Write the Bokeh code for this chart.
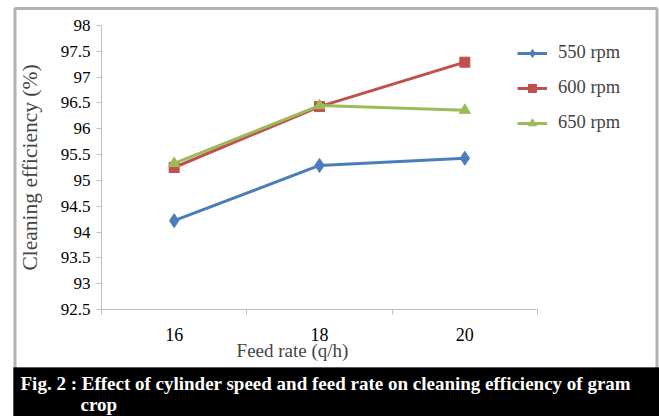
from bokeh.plotting import figure
from bokeh.models import (FixedTicker, Legend, LegendItem, BoxAnnotation, Label, Range1d, LinearAxis)
from bokeh.embed import file_html
from bokeh.resources import INLINE

feed_rates = [16, 18, 20]
tick_labels = ["16", "18", "20"]
rpm_550 = [94.22, 95.29, 95.43]
rpm_600 = [95.25, 96.43, 97.29]
rpm_650 = [95.33, 96.45, 96.36]
series_names = ["550 rpm", "600 rpm", "650 rpm"]
colors = ["#4A7EBB", "#C0504D", "#9BBB59"]
y_ticks = [92.5, 93, 93.5, 94, 94.5, 95, 95.5, 96, 96.5, 97, 97.5, 98]

FONT = "Liberation Serif"
W, H = 659, 416
# plot area (axes box) in canvas pixels
PL, PR, PT, PB = 101, 537, 25, 309
X0, X1, Y0, Y1 = 15, 21, 92.5, 98
sx = (PR - PL) / (X1 - X0)
sy = (PB - PT) / (Y1 - Y0)

p = figure(width=W, height=H, output_backend="svg", toolbar_location=None,
           x_range=Range1d(X0 - PL / sx, X1 + (W - PR) / sx),
           y_range=Range1d(Y0 - (H - PB) / sy, Y1 + PT / sy),
           min_border=0, min_border_left=0, min_border_right=0, min_border_top=0, min_border_bottom=0,
           x_axis_type=None, y_axis_type=None)
p.background_fill_color = "white"
p.border_fill_color = "white"
p.outline_line_color = None
p.grid.visible = False

xaxis = LinearAxis(fixed_location=Y0, bounds=(X0, X1),
                   ticker=FixedTicker(ticks=feed_rates, minor_ticks=[15, 17, 19, 21]))
xaxis.major_label_overrides = {v: t for v, t in zip(feed_rates, tick_labels)}
xaxis.major_tick_line_color = None
xaxis.major_tick_out = 0
xaxis.minor_tick_in = 0
xaxis.minor_tick_out = 5
xaxis.minor_tick_line_color = "#BFBFBF"
xaxis.axis_line_color = "#BFBFBF"
xaxis.major_label_standoff = 13
xaxis.major_label_text_font_size = "18px"
p.add_layout(xaxis, "below")

yaxis = LinearAxis(fixed_location=X0, bounds=(Y0, Y1), ticker=FixedTicker(ticks=y_ticks))
yaxis.minor_tick_line_color = None
yaxis.major_tick_in = 0
yaxis.major_tick_out = 5
yaxis.major_tick_line_color = "#BFBFBF"
yaxis.axis_line_color = "#BFBFBF"
yaxis.major_label_standoff = 6
yaxis.major_label_text_font_size = "17px"
yaxis.axis_label = "Cleaning efficiency (%)"
yaxis.axis_label_text_font = FONT
yaxis.axis_label_text_font_style = "normal"
yaxis.axis_label_text_font_size = "21.5px"
yaxis.axis_label_standoff = 16
p.add_layout(yaxis, "left")
for ax in (xaxis, yaxis):
    ax.major_label_text_font = FONT
    ax.major_label_text_color = "black"

l0 = p.line(feed_rates, rpm_550, line_color=colors[0], line_width=3)
m0 = p.scatter(feed_rates, rpm_550, marker="diamond", size=14, fill_color=colors[0], line_color=colors[0])
l1 = p.line(feed_rates, rpm_600, line_color=colors[1], line_width=3)
m1 = p.scatter(feed_rates, rpm_600, marker="square", size=10, fill_color=colors[1], line_color=colors[1])
l2 = p.line(feed_rates, rpm_650, line_color=colors[2], line_width=3)
m2 = p.scatter(feed_rates, rpm_650, marker="triangle", size=11, fill_color=colors[2], line_color=colors[2])

legend = Legend(items=[LegendItem(label=series_names[0], renderers=[l0, m0]),
                       LegendItem(label=series_names[1], renderers=[l1, m1]),
                       LegendItem(label=series_names[2], renderers=[l2, m2])],
                location=(517, 283), border_line_color=None, background_fill_alpha=0,
                label_text_font=FONT, label_text_font_size="18.5px", glyph_width=30, glyph_height=20,
                label_height=20, spacing=14, label_standoff=11, padding=10)
p.add_layout(legend, "center")

# x axis title
p.add_layout(Label(x=292, y=350, x_units="canvas", y_units="canvas", text="Feed rate (q/h)",
                   text_font=FONT, text_font_size="19px", text_align="center", text_baseline="middle"))

# frame and caption band
p.add_layout(BoxAnnotation(left=14.5, right=656.5, top=8, bottom=416, left_units="canvas", right_units="canvas",
                           top_units="canvas", bottom_units="canvas", fill_color=None, line_color="black",
                           line_width=3))
p.add_layout(BoxAnnotation(left=13, right=659, top=367, bottom=416, left_units="canvas", right_units="canvas",
                           top_units="canvas", bottom_units="canvas", fill_color="black", fill_alpha=1,
                           line_color="black"))
p.add_layout(Label(x=20, y=383, x_units="canvas", y_units="canvas",
                   text="Fig. 2 : Effect of cylinder speed and feed rate on cleaning efficiency of gram",
                   text_font=FONT, text_font_size="19px", text_font_style="bold", text_color="white",
                   text_baseline="middle"))
p.add_layout(Label(x=80, y=404, x_units="canvas", y_units="canvas", text="crop",
                   text_font=FONT, text_font_size="19px", text_font_style="bold", text_color="white",
                   text_baseline="middle"))

open("out.html", "w").write(file_html(p, INLINE))
